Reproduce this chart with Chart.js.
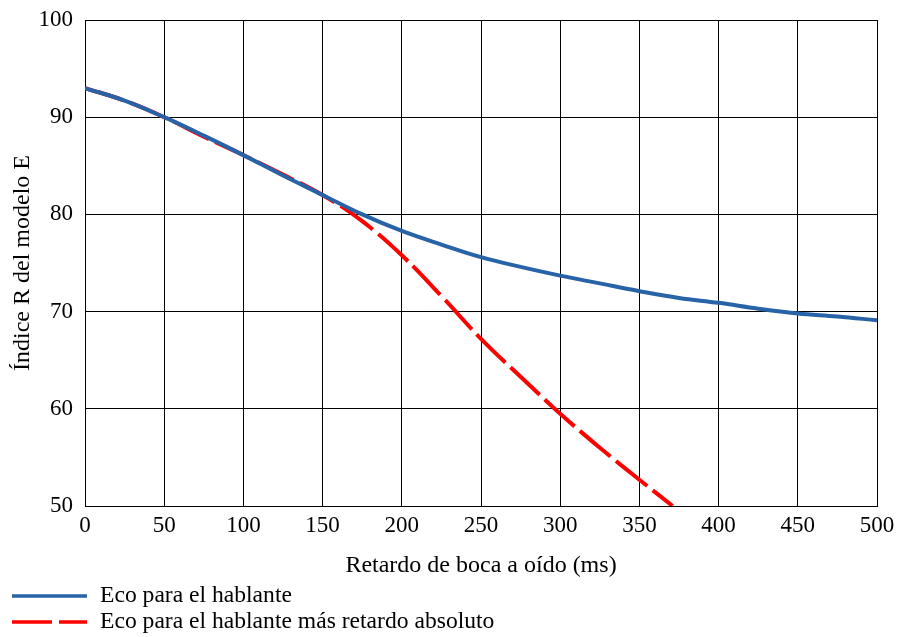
<!DOCTYPE html>
<html>
<head>
<meta charset="utf-8">
<script src="https://cdn.jsdelivr.net/npm/chart.js@4.4.0/dist/chart.umd.min.js"></script>
<style>
  html, body { margin: 0; padding: 0; background: #fff; }
  #wrap { width: 897px; height: 637px; }
</style>
</head>
<body>
<div id="wrap"><canvas id="grafico"></canvas></div>
<script>
// retardo (ms) y valores
const retardoEco = [0, 25, 50, 75, 100, 125, 150, 175, 200, 225, 250, 275, 300, 325, 350, 375, 400, 425, 450, 475, 500];
const valoresEco = [93.0, 91.7, 90.0, 88.1, 86.1, 84.0, 82.0, 80.0, 78.3, 76.9, 75.6, 74.6, 73.7, 72.9, 72.1, 71.4, 70.9, 70.3, 69.8, 69.5, 69.1];

const retardoAbs = [0, 25, 50, 75, 100, 125, 150, 175, 200, 225, 250, 275, 300, 325, 350, 371];
const valoresAbs = [93.0, 91.7, 90.0, 88.0, 86.1, 84.1, 82.0, 79.3, 75.8, 71.6, 67.2, 63.3, 59.5, 56.0, 52.7, 50.0];

const etiquetas = ['Eco para el hablante', 'Eco para el hablante más retardo absoluto'];

const fuente = '"Liberation Serif", "Times New Roman", serif';

const puntos = (xs, ys) => xs.map((x, i) => ({ x: x, y: ys[i] }));

// leyenda dibujada a mano, dos filas abajo a la izquierda
const leyendaPlugin = {
  id: 'leyenda',
  afterDraw(chart) {
    const ctx = chart.ctx;
    const filas = [596, 622];
    chart.data.datasets.forEach((ds, i) => {
      const y = filas[i];
      ctx.save();
      ctx.strokeStyle = ds.borderColor;
      ctx.lineWidth = 3.5;
      ctx.setLineDash(ds.borderDash || []);
      ctx.beginPath();
      ctx.moveTo(12, y);
      ctx.lineTo(87, y);
      ctx.stroke();
      ctx.setLineDash([]);
      ctx.fillStyle = '#000';
      ctx.font = '23.6px ' + fuente;
      ctx.textBaseline = 'middle';
      ctx.fillText(ds.label, 100, y);
      ctx.restore();
    });
  }
};

new Chart(document.getElementById('grafico'), {
  type: 'line',
  data: {
    datasets: [
      {
        label: etiquetas[0],
        data: puntos(retardoEco, valoresEco),
        borderColor: '#2763a6',
        borderWidth: 4,
        pointRadius: 0,
        tension: 0.4,
        fill: false,
      },
      {
        label: etiquetas[1],
        data: puntos(retardoAbs, valoresAbs),
        borderColor: '#ff0000',
        borderWidth: 4,
        borderDash: [40, 7],
        pointRadius: 0,
        tension: 0.4,
        fill: false,
      },
    ],
  },
  plugins: [leyendaPlugin],
  options: {
    responsive: true,
    maintainAspectRatio: false,
    animation: false,
    layout: { padding: { left: 0, right: 20, top: 20, bottom: 57 } },
    plugins: { legend: { display: false }, tooltip: { enabled: false } },
    scales: {
      x: {
        type: 'linear',
        min: 0,
        max: 500,
        ticks: { stepSize: 50, color: '#000', padding: 6, font: { family: fuente, size: 23 } },
        grid: { color: '#000', lineWidth: 1, drawTicks: false },
        border: { color: '#000', width: 1 },
        title: { display: true, text: 'Retardo de boca a oído (ms)', color: '#000', padding: { top: 6, bottom: 0 }, font: { family: fuente, size: 24 } },
        afterFit(scale) { scale.height = 74; scale.paddingRight = 0; scale.paddingLeft = 0; },
      },
      y: {
        min: 50,
        max: 100,
        ticks: { stepSize: 10, color: '#000', padding: 12, font: { family: fuente, size: 23 } },
        grid: { color: '#000', lineWidth: 1, drawTicks: false },
        border: { color: '#000', width: 1 },
        title: { display: true, text: 'Índice R del modelo E', color: '#000', padding: { top: 8, bottom: 4 }, font: { family: fuente, size: 24 } },
        afterFit(scale) { scale.width = 85; scale.paddingTop = 0; scale.paddingBottom = 0; },
      },
    },
  },
});
</script>
</body>
</html>
